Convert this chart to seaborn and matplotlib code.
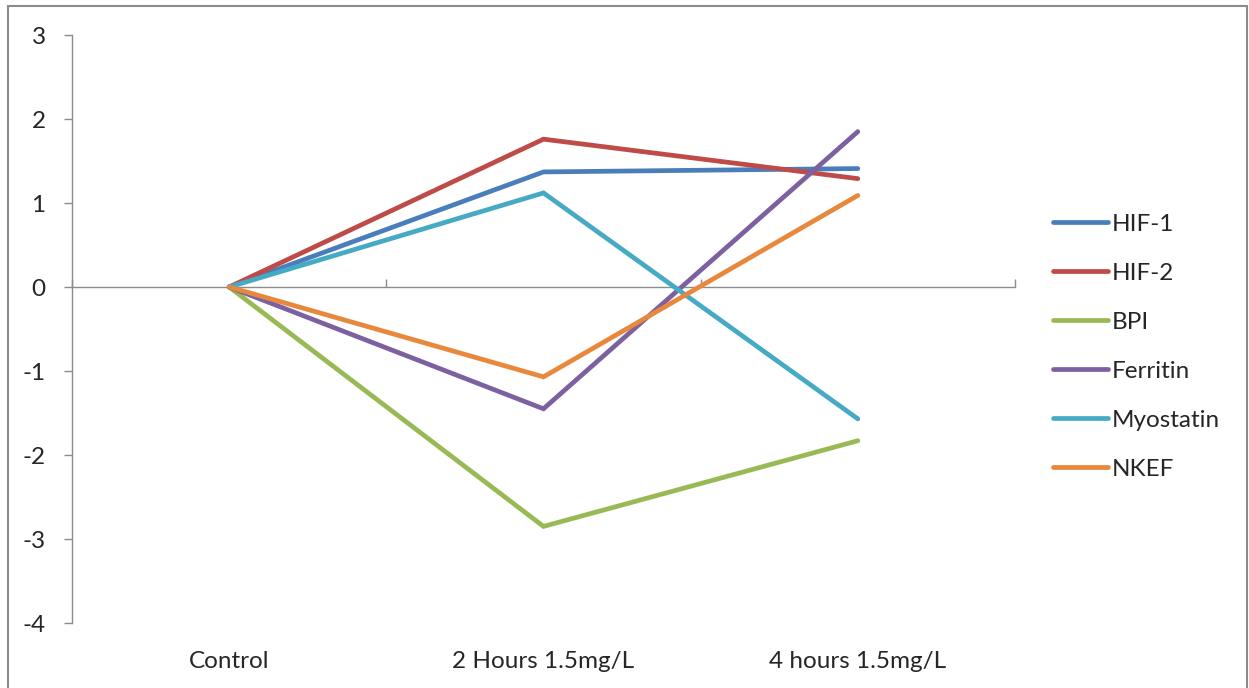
import matplotlib
matplotlib.use("Agg")
import matplotlib.pyplot as plt
import matplotlib.patches as mpatches
import seaborn as sns
import pandas as pd

# Relative expression per gene at each sampling point
conditions = ["Control", "2 Hours 1.5mg/L", "4 hours 1.5mg/L"]
genes = ["HIF-1", "HIF-2", "BPI", "Ferritin", "Myostatin", "NKEF"]
hif1 = [0.0, 1.37, 1.41]
hif2 = [0.0, 1.76, 1.29]
bpi = [0.0, -2.85, -1.83]
ferritin = [0.0, -1.45, 1.85]
myostatin = [0.0, 1.12, -1.57]
nkef = [0.0, -1.07, 1.09]
colors = ["#4A7EBB", "#BE4B48", "#98B954", "#7D60A0", "#46AAC5", "#E8883C"]

series = [hif1, hif2, bpi, ferritin, myostatin, nkef]
rows = []
for g, vals in zip(genes, series):
    for i, v in enumerate(vals):
        rows.append({"gene": g, "pos": i, "value": v})
df = pd.DataFrame(rows)

sns.set_style("white")
plt.rcParams["font.family"] = ["Lato", "DejaVu Sans"]

fs = 17.5
fig = plt.figure(figsize=(12.49, 6.88), dpi=100)
ax = fig.add_axes([72 / 1249, 65 / 688, (1015 - 72) / 1249, (623 - 35) / 688])

sns.lineplot(data=df, x="pos", y="value", hue="gene", hue_order=genes,
             palette=colors, linewidth=3.4, ax=ax, legend=True,
             solid_capstyle="round", solid_joinstyle="miter")

ax.set_xlim(-0.5, 2.5)
ax.set_ylim(-4, 3)
ax.set_yticks(range(-4, 4))
ax.set_yticklabels([str(v) for v in range(-4, 4)])
ax.set_xticks(range(len(conditions)))
ax.set_xticklabels(conditions)
ax.set_xlabel("")
ax.set_ylabel("")

axis_gray = "#8C8C8C"
for side in ["top", "right", "bottom"]:
    ax.spines[side].set_visible(False)
ax.spines["left"].set_color(axis_gray)
ax.spines["left"].set_linewidth(1.0)
ax.tick_params(axis="y", direction="out", length=6, width=1.0, color=axis_gray,
               labelsize=fs, pad=13, left=True)
ax.tick_params(axis="x", length=0, labelsize=fs, pad=20)

# Category axis sits at y = 0 with tick marks between categories
sec = ax.secondary_xaxis(4 / 7)
for sp in sec.spines.values():
    sp.set_color(axis_gray)
    sp.set_linewidth(1.0)
sec.set_xticks([-0.5, 0.5, 1.5, 2.5])
sec.set_xticklabels([])
sec.tick_params(axis="x", direction="out", length=6, width=1.0, color=axis_gray)

leg = ax.legend(loc="center left", bbox_to_anchor=(1.03, 0.47), frameon=False,
                fontsize=fs, handlelength=2.25, handletextpad=0.15,
                labelspacing=1.15, borderaxespad=0)
for h in leg.get_lines():
    h.set_linewidth(3.4)
    h.set_solid_capstyle("round")

# Chart area outline
fig.patches.append(mpatches.Rectangle((8 / 1249, -0.01), 1239 / 1249, 0.01 + 682 / 688,
                                      transform=fig.transFigure, fill=False,
                                      edgecolor="#8C8C8C", linewidth=1.5))

fig.savefig("out.png", dpi=100)
